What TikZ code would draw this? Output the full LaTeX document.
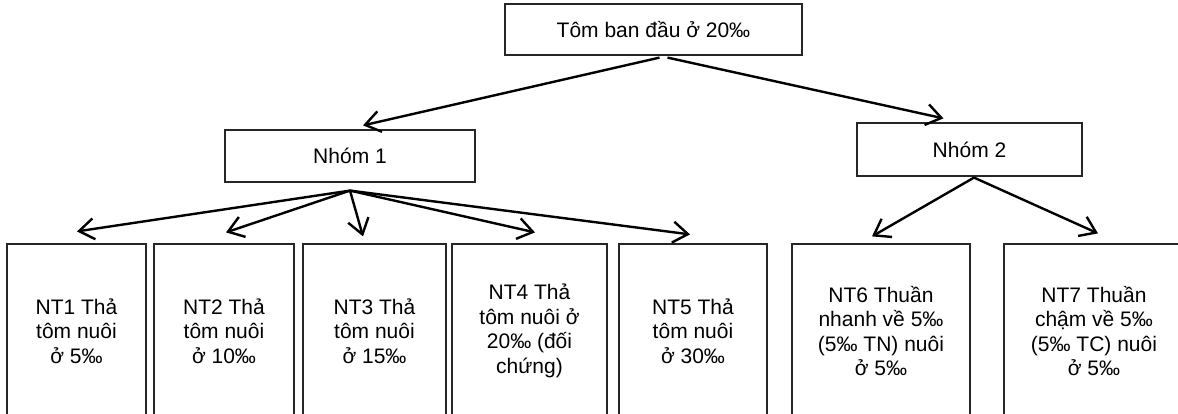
\documentclass[tikz,border=0pt]{standalone}
\usepackage{fontspec}
\setmainfont{Liberation Sans}
\usetikzlibrary{arrows.meta}
\begin{document}
\begin{tikzpicture}[x=1pt,y=-1pt,
  box/.style={draw=black!85, line width=1.2pt, inner sep=0pt, align=center,
    font=\fontsize{21}{24.5}\selectfont},
  conn/.style={line width=2.4pt, -{Straight Barb[length=15pt,width=21pt,line width=2.4pt]}}]
\useasboundingbox (0,0) rectangle (1178,414);
\clip (0,0) rectangle (1178,414);
\fill[white] (0,0) rectangle (1178,414);

\node[box, minimum width=297pt, minimum height=51pt] (top) at (653.5,29.5) {Tôm ban đầu ở 20‰};
\node[box, minimum width=250pt, minimum height=52pt] (n1) at (350,156) {Nhóm 1};
\node[box, minimum width=225pt, minimum height=53pt] (n2) at (969.5,149.5) {Nhóm 2};

\node[box, minimum width=139pt, minimum height=174pt] (nt1) at (76.5,331) {NT1 Thả\\tôm nuôi\\ở 5‰};
\node[box, minimum width=140pt, minimum height=174pt] (nt2) at (224,331) {NT2 Thả\\tôm nuôi\\ở 10‰};
\node[box, minimum width=143pt, minimum height=174pt] (nt3) at (374.5,331) {NT3 Thả\\tôm nuôi\\ở 15‰};
\node[box, minimum width=155pt, minimum height=174pt] (nt4) at (529.5,331) {NT4 Thả\\tôm nuôi ở\\20‰ (đối\\chứng)};
\node[box, minimum width=148pt, minimum height=174pt] (nt5) at (693,331) {NT5 Thả\\tôm nuôi\\ở 30‰};
\node[box, minimum width=178pt, minimum height=174pt] (nt6) at (881,331) {NT6 Thuần\\nhanh về 5‰\\(5‰ TN) nuôi\\ở 5‰};
\node[box, minimum width=180pt, minimum height=174pt] (nt7) at (1094,331) {NT7 Thuần\\chậm về 5‰\\(5‰ TC) nuôi\\ở 5‰};

\draw[conn] ([xshift=6pt,yshift=-2pt]top.south) -- ([xshift=13pt,yshift=4pt]n1.north);
\draw[conn] ([xshift=14pt,yshift=-2pt]top.south) -- ([xshift=-26pt,yshift=4pt]n2.north);

\coordinate (s1) at ([yshift=-8pt]n1.south);
\draw[conn] (s1) -- ([xshift=0.5pt,yshift=12pt]nt1.north);
\draw[conn] (s1) -- ([xshift=2pt,yshift=11pt]nt2.north);
\draw[conn] (s1) -- ([xshift=-11.5pt,yshift=7pt]nt3.north);
\draw[conn] (s1) -- ([xshift=5.5pt,yshift=11pt]nt4.north);
\draw[conn] (s1) -- ([xshift=-3pt,yshift=9pt]nt5.north);

\coordinate (s2) at ([xshift=4.5pt,yshift=-1pt]n2.south);
\draw[conn] (s2) -- ([xshift=-9pt,yshift=7pt]nt6.north);
\draw[conn] (s2) -- ([xshift=4pt,yshift=10pt]nt7.north);
\end{tikzpicture}
\end{document}
